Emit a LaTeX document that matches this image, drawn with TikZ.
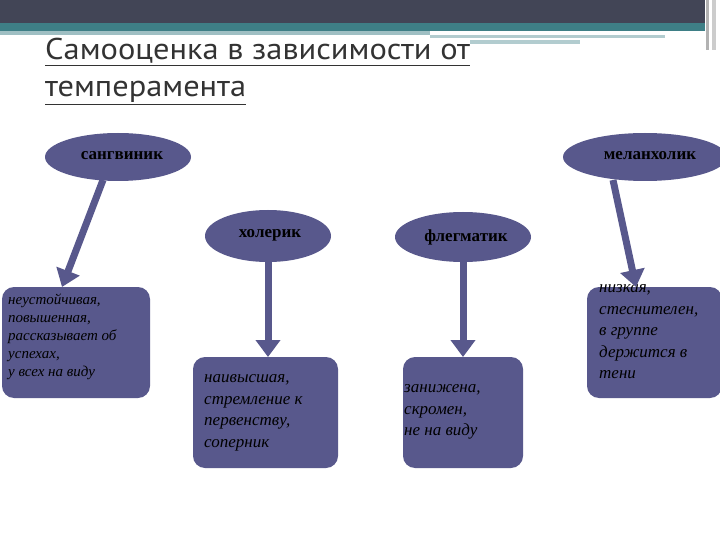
\documentclass[tikz,border=0pt]{standalone}
\usepackage{fontspec}
\setmainfont{Liberation Serif}
\newfontfamily\titlefont{PT Sans}
\usetikzlibrary{shapes.geometric,arrows.meta}
\definecolor{nodeblue}{RGB}{88,88,140}
\definecolor{bandtop}{RGB}{66,69,86}
\definecolor{teal}{RGB}{62,127,134}
\tikzset{
 box/.style={rounded corners=12pt,fill=nodeblue,draw=none,align=left,anchor=north west,inner sep=0pt},
 txt/.style={anchor=west,align=left,inner sep=0pt,font=\itshape\fontsize{17}{21.5}\selectfont},
 lbl/.style={font=\bfseries\fontsize{17}{19}\selectfont}
}
\begin{document}
\begin{tikzpicture}[x=1pt,y=-1pt]
\useasboundingbox (0,0) rectangle (720,540);
\fill[white] (0,0) rectangle (720,540);
\fill[bandtop] (0,0) rectangle (705,23);
\fill[teal] (0,23) rectangle (705,31);
\fill[teal!50!white] (0,31) rectangle (430,35);
\fill[teal!40!white] (430,35) rectangle (665,38);
\fill[teal!40!white] (470,40) rectangle (580,44);
\fill[gray!60] (706,0) rectangle (709,50);
\fill[gray!40] (712,0) rectangle (716,50);
\node[anchor=base west,inner sep=0pt,font=\titlefont\fontsize{30}{34}\selectfont,text=black!80,xscale=1.08] (t1) at (45,60) {\underline{Самооценка в зависимости от}};
\node[anchor=base west,inner sep=0pt,font=\titlefont\fontsize{30}{34}\selectfont,text=black!80,xscale=1.08] (t2) at (45,97) {\underline{темперамента}};
\fill[nodeblue] (118,157) ellipse (73 and 24);
\node[lbl] (san) at (122,156) {сангвиник};
\fill[nodeblue] (645,157) ellipse (82 and 24);
\node[lbl] (mel) at (650,156) {меланхолик};
\fill[nodeblue] (268,236) ellipse (63 and 26);
\node[lbl] (hol) at (270,235) {холерик};
\fill[nodeblue] (463,237) ellipse (68 and 25);
\node[lbl] (fle) at (466,237) {флегматик};
\fill[nodeblue,rounded corners=12pt] (2,287) rectangle (150,398);
\node[txt,font=\itshape\fontsize{15}{18}\selectfont] (b1) at (8,337) {неустойчивая,\\повышенная,\\рассказывает об\\успехах,\\у всех на виду};
\fill[nodeblue,rounded corners=12pt] (193,357) rectangle (338,468);
\node[txt] (b2) at (204,413) {наивысшая,\\стремление к\\первенству,\\соперник};
\fill[nodeblue,rounded corners=12pt] (403,357) rectangle (523,468);
\node[txt] (b3) at (404,412) {занижена,\\скромен,\\не на виду};
\fill[nodeblue,rounded corners=12pt] (587,287) rectangle (722,398);
\node[txt] (b4) at (599,332) {низкая,\\стеснителен,\\в группе\\держится в\\тени};
\coordinate (s1) at (103,180); \coordinate (e1) at (62,287);
\coordinate (s2) at (268,262); \coordinate (e2) at (268,357);
\coordinate (s3) at (463,262); \coordinate (e3) at (463,357);
\coordinate (s4) at (613,180); \coordinate (e4) at (636,287);
\foreach \a/\b in {s1/e1,s2/e2,s3/e3,s4/e4}
  \draw[line width=7pt,draw=nodeblue,-{Triangle[length=17pt,width=24pt]}] (\a) -- (\b);
\end{tikzpicture}
\end{document}
